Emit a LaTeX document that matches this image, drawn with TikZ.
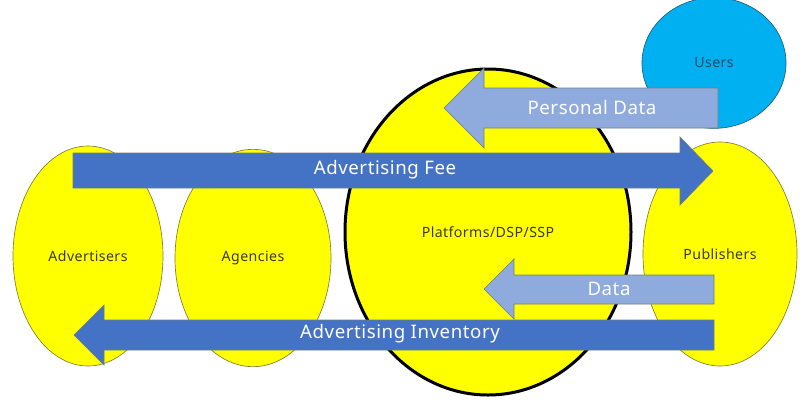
\documentclass[tikz,border=0pt]{standalone}
\usepackage{fontspec}
\setmainfont{Noto Sans}[LetterSpace=3]
\usetikzlibrary{shapes.geometric}
\definecolor{ylw}{HTML}{FFFF00}
\definecolor{ylwline}{HTML}{7F7F3F}
\definecolor{darkarrow}{HTML}{4472C4}
\definecolor{lightarrow}{HTML}{8FAADC}
\definecolor{arrowline}{HTML}{6E7F80}
\definecolor{userblue}{HTML}{00B0F0}
\definecolor{usersline}{HTML}{1F5F80}
\definecolor{labeltext}{HTML}{3A3A2A}
\tikzset{
  party/.style={ellipse, draw=ylwline, fill=ylw, line width=0.5pt, inner sep=0pt,
     font=\fontsize{10.6}{12}\selectfont, text=labeltext},
  darkflow/.style={fill=darkarrow, draw=arrowline, line width=0.5pt},
  lightflow/.style={fill=lightarrow, draw=arrowline, line width=0.5pt},
  flowtext/.style={text=white, font=\fontsize{14}{17}\selectfont}
}
\begin{document}
\begin{tikzpicture}[x=0.75pt,y=-0.75pt]
\useasboundingbox (0,0) rectangle (800,419);
% parties
\node[party, minimum width=112.5pt, minimum height=165pt] (adv) at (88,256) {Advertisers};
\node[party, minimum width=117pt, minimum height=163pt] (agc) at (253,258) {Agencies};
\node[party, draw=black, line width=2.25pt, minimum width=214.5pt, minimum height=244.5pt] (plat) at (488,232) {Platforms/DSP/SSP};
\node[party, minimum width=115.5pt, minimum height=168pt] (pub) at (720,254) {Publishers};
\node[party, fill=userblue, draw=usersline, text=usersline!80!black, minimum width=108pt, minimum height=98pt] (usr) at (714,63) {Users};
% flows
\filldraw[darkflow] (73,153) -- (680,153) -- (680,137) -- (713,171) -- (680,205) -- (680,188) -- (73,188) -- cycle;
\node[flowtext] (fee) at (385,170) {Advertising Fee};
\filldraw[lightflow] (718,88) -- (484,88) -- (484,68) -- (444,108) -- (484,148) -- (484,128) -- (718,128) -- cycle;
\node[flowtext] (pd) at (592,107) {Personal Data};
\filldraw[lightflow] (714,275) -- (514,275) -- (514,259) -- (484,289) -- (514,319) -- (514,304) -- (714,304) -- cycle;
\node[flowtext] (dat) at (609,289) {Data};
\filldraw[darkflow] (714,320) -- (104,320) -- (104,305) -- (74,335) -- (104,365) -- (104,350) -- (714,350) -- cycle;
\node[flowtext] (inv) at (400,334) {Advertising Inventory};
\end{tikzpicture}
\end{document}
